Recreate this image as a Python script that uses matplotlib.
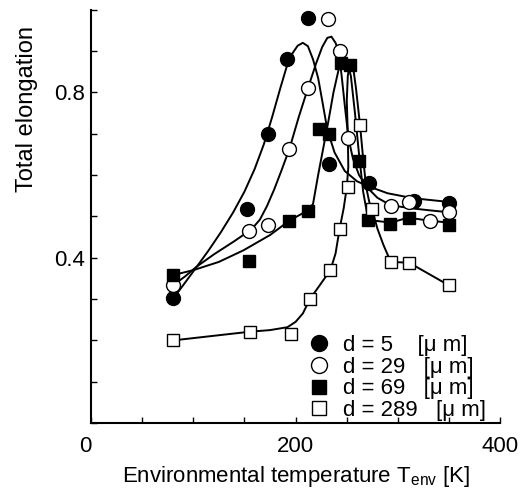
import numpy as np
import matplotlib
matplotlib.use('Agg')
import matplotlib.pyplot as plt
from matplotlib.ticker import MultipleLocator, FixedLocator

# Measured points (T in K, total elongation)
d5_T = [80, 152, 173, 192, 212, 233, 272, 316, 350]
d5_E = [0.302, 0.518, 0.70, 0.88, 0.98, 0.627, 0.58, 0.538, 0.533]

d29_T = [80, 154, 173, 194, 212.5, 232, 243, 251.6, 293, 311, 331, 350]
d29_E = [0.333, 0.464, 0.48, 0.664, 0.81, 0.977, 0.90, 0.69, 0.526, 0.534, 0.488, 0.511]

d69_T = [80, 154, 194, 212.5, 223, 233, 244, 253.5, 262, 271, 292.5, 311, 350]
d69_E = [0.358, 0.392, 0.49, 0.513, 0.712, 0.70, 0.871, 0.867, 0.635, 0.492, 0.482, 0.497, 0.48]

d289_T = [80, 155, 195, 214, 234, 243, 251.5, 263, 274.5, 293, 311, 350.4]
d289_E = [0.20, 0.221, 0.215, 0.30, 0.37, 0.47, 0.572, 0.722, 0.517, 0.39, 0.388, 0.333]

# Hand-drawn fit curves
c5_T = [80, 92, 103, 115, 127, 139, 150, 160, 169, 177, 185, 191, 197, 202, 207, 212,
        217, 222, 226, 231, 238, 248, 260, 272, 290, 315, 350]
c5_E = [0.30, 0.34, 0.377, 0.418, 0.462, 0.51, 0.56, 0.615, 0.675, 0.74, 0.81, 0.86,
        0.895, 0.913, 0.92, 0.912, 0.88, 0.835, 0.78, 0.71, 0.655, 0.61, 0.585, 0.572,
        0.556, 0.544, 0.535]

c29_T = [80, 92, 103, 120, 140, 150, 158, 165, 172, 179, 186, 194, 203, 212, 220, 226,
         231, 235, 239, 242, 245, 248, 251.6, 256, 262, 270, 280, 293, 312, 330, 350]
c29_E = [0.333, 0.355, 0.378, 0.408, 0.44, 0.457, 0.472, 0.492, 0.525, 0.565, 0.61,
         0.664, 0.74, 0.81, 0.87, 0.91, 0.932, 0.935, 0.92, 0.90, 0.84, 0.77, 0.69, 0.64,
         0.60, 0.57, 0.545, 0.527, 0.52, 0.515, 0.51]

c69_T = [80, 100, 125, 149, 175, 194, 205, 212, 217, 222, 227, 232, 237, 242, 246,
         250, 254, 258, 262, 266, 270, 276, 293, 310, 330, 350]
c69_E = [0.358, 0.37, 0.39, 0.418, 0.455, 0.49, 0.505, 0.515, 0.53, 0.60, 0.665, 0.73,
         0.80, 0.855, 0.878, 0.875, 0.84, 0.75, 0.65, 0.56, 0.505, 0.49, 0.485, 0.497,
         0.49, 0.485]

c289_T = [80, 155, 175, 192, 200, 207, 214, 224, 234, 239, 243, 247, 250, 251.5, 251,
          250, 251, 253, 256, 259, 263, 266, 269, 272, 275, 280, 286, 293, 311, 350]
c289_E = [0.20, 0.221, 0.225, 0.232, 0.245, 0.265, 0.30, 0.335, 0.37, 0.41, 0.47, 0.52,
          0.57, 0.62, 0.70, 0.78, 0.84, 0.87, 0.865, 0.81, 0.72, 0.64, 0.57, 0.535, 0.515,
          0.47, 0.43, 0.39, 0.388, 0.333]

labels = ['d = 5    [\u03bc m]', 'd = 29   [\u03bc m]',
          'd = 69   [\u03bc m]', 'd = 289   [\u03bc m]']

plt.rcParams['font.family'] = ['Liberation Sans', 'DejaVu Sans']
plt.rcParams['mathtext.fontset'] = 'custom'
plt.rcParams['mathtext.rm'] = 'Liberation Sans'

fig = plt.figure(figsize=(5.2, 4.88), dpi=100)
ax = fig.add_axes([0.175, 0.133, 0.787, 0.847])

lw = 1.4
ax.plot(c5_T, c5_E, color='k', lw=lw)
ax.plot(c29_T, c29_E, color='k', lw=lw)
ax.plot(c69_T, c69_E, color='k', lw=lw)
ax.plot(c289_T, c289_E, color='k', lw=lw)

ms = 10
ax.plot(d5_T, d5_E, 'o', ms=ms, mfc='k', mec='k', label=labels[0], zorder=3)
ax.plot(d29_T, d29_E, 'o', ms=ms, mfc='white', mec='k', mew=1.0, label=labels[1], zorder=3)
ax.plot(d69_T, d69_E, 's', ms=ms - 1, mfc='k', mec='k', label=labels[2], zorder=3)
ax.plot(d289_T, d289_E, 's', ms=ms - 1, mfc='white', mec='k', mew=1.0, label=labels[3], zorder=3)

ax.set_xlim(0, 400)
ax.set_ylim(0, 1.0)
ax.spines['top'].set_visible(False)
ax.spines['right'].set_visible(False)
ax.spines['left'].set_linewidth(1.5)
ax.spines['bottom'].set_linewidth(1.5)

ax.xaxis.set_major_locator(FixedLocator([0, 200, 400]))
ax.xaxis.set_minor_locator(MultipleLocator(50))
ax.yaxis.set_major_locator(FixedLocator([0.4, 0.8]))
ax.yaxis.set_minor_locator(MultipleLocator(0.1))
ax.tick_params(which='both', direction='in', length=4, width=1, labelsize=16)
ax.tick_params(axis='x', pad=9)
ax.tick_params(axis='y', pad=4)
ax.xaxis.get_major_ticks()[0].label1.set_horizontalalignment('right')

ax.set_xlabel('Environmental temperature T$_{\\rm env}$ [K]', fontsize=16, labelpad=5)
ax.set_ylabel('Total elongation', fontsize=17)
ax.yaxis.set_label_coords(-0.13, 0.76)

ax.legend(loc='lower left', bbox_to_anchor=(0.53, 0.005), frameon=False, fontsize=16,
          handletextpad=0.6, labelspacing=0.03, borderaxespad=0, borderpad=0,
          handlelength=1.0, markerscale=1.15)

fig.savefig('out.png', dpi=100)
